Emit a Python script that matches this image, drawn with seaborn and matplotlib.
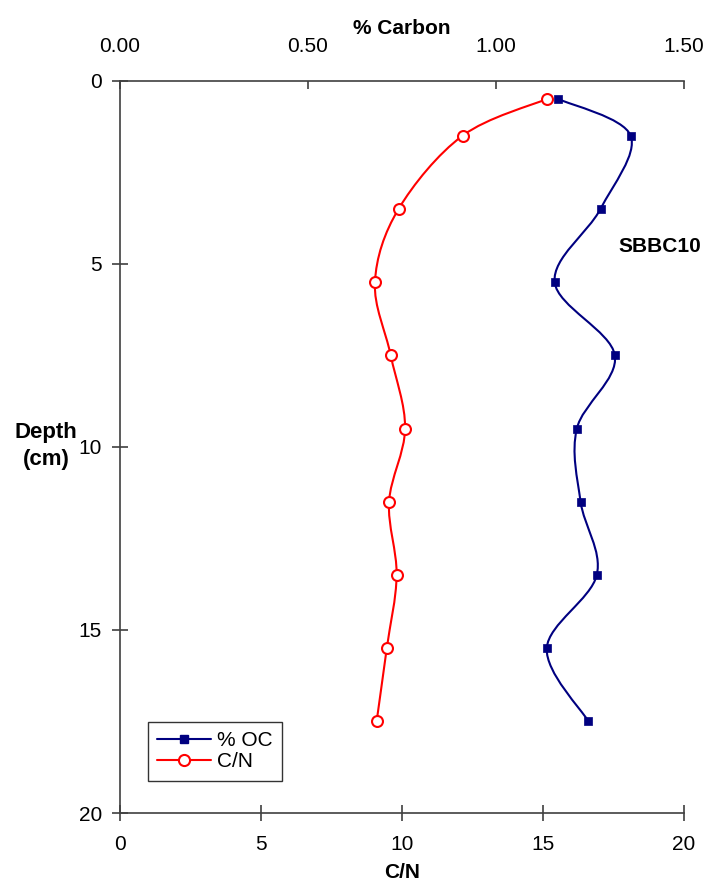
import numpy as np
import pandas as pd
import matplotlib
matplotlib.use("Agg")
import matplotlib.pyplot as plt
from matplotlib.path import Path
from matplotlib.patches import PathPatch
from matplotlib.lines import Line2D
import seaborn as sns

# ---- data ----
depth = [0.5, 1.5, 3.5, 5.5, 7.5, 9.5, 11.5, 13.5, 15.5, 17.5]
pct_oc = [1.166, 1.358, 1.278, 1.156, 1.316, 1.215, 1.225, 1.268, 1.135, 1.246]
c_n = [15.13, 12.15, 9.88, 9.04, 9.60, 10.11, 9.54, 9.81, 9.46, 9.10]
carbon_ticks = [0.0, 0.5, 1.0, 1.5]
cn_ticks = [0, 5, 10, 15, 20]
depth_ticks = [0, 5, 10, 15, 20]
site_label = "SBBC10"

df = pd.DataFrame({"depth": depth, "oc": pct_oc, "cn": c_n})

sns.set_theme(style="white")
plt.rcParams["font.family"] = ["Liberation Sans", "DejaVu Sans"]
plt.rcParams["text.color"] = "black"
plt.rcParams["axes.labelcolor"] = "black"
plt.rcParams["xtick.labelcolor"] = "black"
plt.rcParams["ytick.labelcolor"] = "black"

AXC = "#404040"
BLUE = "#000080"
RED = "#FF0000"


def smooth_path(xs, ys):
    """Excel-like smoothed line as cubic Bezier segments through the data points."""
    P = np.column_stack([xs, ys]).astype(float)
    n = len(P)
    verts = [P[0]]
    codes = [Path.MOVETO]
    for i in range(n - 1):
        p0 = P[i - 1] if i > 0 else P[i]
        p1 = P[i]
        p2 = P[i + 1]
        p3 = P[i + 2] if i + 2 < n else P[i + 1]
        c1 = p1 + (p2 - p0) / 6.0
        c2 = p2 - (p3 - p1) / 6.0
        verts += [c1, c2, p2]
        codes += [Path.CURVE4] * 3
    return Path(verts, codes)


fig = plt.figure(figsize=(7.09, 8.86), dpi=100)
ax = fig.add_axes([120 / 709, 1 - 813 / 886, 564 / 709, (813 - 80.7) / 886])
ax2 = ax.twiny()

# C/N on bottom axis
ax.add_patch(PathPatch(smooth_path(df["cn"], df["depth"]), fill=False,
                       edgecolor=RED, lw=1.5, zorder=2))
sns.scatterplot(data=df, x="cn", y="depth", ax=ax, marker="o", s=62,
                facecolor="white", edgecolor=RED, linewidth=1.5, zorder=3,
                legend=False)

# % OC on top axis
ax2.add_patch(PathPatch(smooth_path(df["oc"], df["depth"]), fill=False,
                        edgecolor=BLUE, lw=1.5, zorder=2))
sns.scatterplot(data=df, x="oc", y="depth", ax=ax2, marker="s", s=34,
                color=BLUE, edgecolor=BLUE, linewidth=0.5, zorder=3,
                legend=False)

ax.set_xlim(0, 20)
ax2.set_xlim(0, 1.5)
ax.set_ylim(20, 0)

ax.set_xticks(cn_ticks)
ax.set_xticklabels([str(t) for t in cn_ticks])
ax.set_yticks(depth_ticks)
ax.set_yticklabels([str(t) for t in depth_ticks])
ax2.set_xticks(carbon_ticks)
ax2.set_xticklabels([f"{t:.2f}" for t in carbon_ticks])

for a in (ax, ax2):
    a.set_facecolor("none")
    a.grid(False)
    a.spines["right"].set_visible(False)
    for s in a.spines.values():
        s.set_color(AXC)
        s.set_linewidth(1.2)
ax.spines["top"].set_visible(False)
ax2.spines["bottom"].set_visible(False)
ax2.spines["left"].set_visible(False)

ax.tick_params(axis="x", direction="inout", length=12, width=1.2, color=AXC,
               labelsize=15, pad=10, bottom=True, labelcolor="black")
ax.tick_params(axis="y", direction="inout", length=12, width=1.2, color=AXC,
               labelsize=15, pad=7, left=True, labelcolor="black")
ax2.tick_params(axis="x", direction="in", length=6, width=1.2, color=AXC,
                labelsize=15, pad=18, top=True, labelcolor="black")

ax.set_xlabel("C/N", fontsize=15, fontweight="bold", labelpad=6, color="black")
ax2.set_xlabel("% Carbon", fontsize=15, fontweight="bold", labelpad=2, color="black")
ax.set_ylabel("")
ax2.set_ylabel("")

fig.text(46 / 709, 1 - 446 / 886, "Depth\n(cm)", ha="center", va="center",
         fontsize=16, fontweight="bold", linespacing=1.4, color="black")
ax2.text(701 / 709, 1 - 247 / 886, site_label, transform=fig.transFigure,
         ha="right", va="center", fontsize=15, fontweight="bold", color="black")

handles = [
    Line2D([], [], color=BLUE, lw=1.5, marker="s", markersize=6,
           markerfacecolor=BLUE, markeredgecolor=BLUE),
    Line2D([], [], color=RED, lw=1.5, marker="o", markersize=8,
           markerfacecolor="white", markeredgecolor=RED, markeredgewidth=1.5),
]
leg = ax2.legend(handles, ["% OC", "C/N"], loc="lower left",
                 bbox_to_anchor=(0.049, 0.044), frameon=True, fancybox=False,
                 fontsize=15, handlelength=2.6, handletextpad=0.3,
                 borderpad=0.45, borderaxespad=0, labelspacing=0.1)
leg.get_frame().set_edgecolor("#000000")
leg.get_frame().set_linewidth(1.0)
for t in leg.get_texts():
    t.set_color("black")

fig.savefig("out.png", dpi=100, facecolor="white")
